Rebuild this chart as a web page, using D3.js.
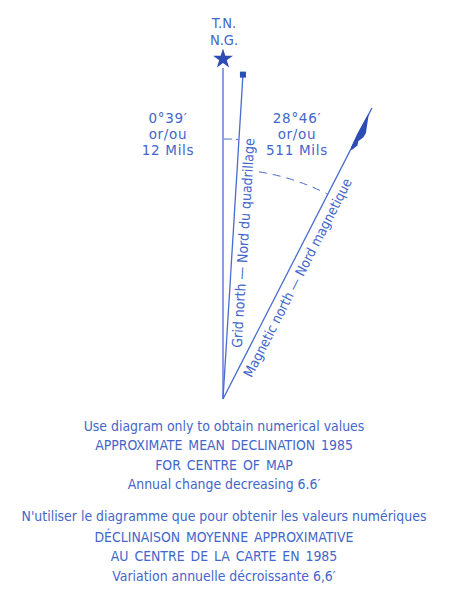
<!DOCTYPE html>
<html><head><meta charset="utf-8">
<script src="https://cdn.jsdelivr.net/npm/d3@7"></script>
<style>html,body{margin:0;padding:0;background:#fff}</style>
</head><body>
<svg id="c" width="474" height="593"></svg>
<script>
// ---- data ----
const northLabels = ["T.N.", "N.G."];
const lineNames = ["true", "grid", "magnetic"];
const declinationMinutes = [0, 39, 28 * 60 + 46];   // 0°, 0°39′, 28°46′
const declinationMils = [0, 12, 511];
const gridDeclLabel = ["0°39′", "or/ou", "12 Mils"];
const magDeclLabel = ["28°46′", "or/ou", "511 Mils"];
const lineLabels = ["Grid north — Nord du quadrillage", "Magnetic north — Nord magnetique"];
const notesEnglish = [
  "Use diagram only to obtain numerical values",
  "APPROXIMATE MEAN DECLINATION 1985",
  "FOR CENTRE OF MAP",
  "Annual change decreasing 6.6′"
];
const notesFrench = [
  "N'utiliser le diagramme que pour obtenir les valeurs numériques",
  "DÉCLINAISON MOYENNE APPROXIMATIVE",
  "AU CENTRE DE LA CARTE EN 1985",
  "Variation annuelle décroissante 6,6′"
];

// ---- layout / style ----
const FONT = "'Liberation Sans Narrow','DejaVu Sans Condensed','Arial Narrow',sans-serif";
const FONT_REG = "'DejaVu Sans',sans-serif";
const TXT = "#4466cc";
const INK = "#2d4db4";
const LINE = "#4a6cd0";
const O = [223, 399];

const svg = d3.select("#c");

// angle scale (diagram is schematic: small angles exaggerated)
const angle = d3.scaleLinear().domain(declinationMinutes).range([0, 3.52, 27.1]);
const rad = d => d * Math.PI / 180;
function pt(aDeg, r) { const a = rad(aDeg); return [O[0] + r * Math.sin(a), O[1] - r * Math.cos(a)]; }

const lineLen = { true: 331, grid: 323, magnetic: 327 };

// lines
lineNames.forEach((n, i) => {
  const a = angle(declinationMinutes[i]);
  const p = pt(a, lineLen[n]);
  svg.append("line").attr("x1", O[0]).attr("y1", O[1]).attr("x2", p[0]).attr("y2", p[1])
    .attr("stroke", LINE).attr("stroke-width", 1.3);
});

// star (true north)
const sp = pt(0, 340);
svg.append("path").attr("d", d3.symbol(d3.symbolStar).size(122)())
  .attr("transform", `translate(${sp[0]},${sp[1]})`).attr("fill", INK);

// square (grid north)
const gq = pt(angle(declinationMinutes[1]), 325);
svg.append("rect").attr("x", gq[0] - 3).attr("y", gq[1] - 3).attr("width", 6).attr("height", 6).attr("fill", INK);

// half arrowhead (magnetic north)
const am = angle(declinationMinutes[2]);
const tip = pt(am, 327);
const dv = [-Math.sin(rad(am)), Math.cos(rad(am))];
const nr = [Math.cos(rad(am)), Math.sin(rad(am))];
const head = [[7,0],[16,3],[25,6],[30,5.8],[36,3],[40,4.2],[47,1],[45,-0.7],[30,-1.3],[15,-0.9],[7,-0.4]];
svg.append("path")
  .attr("d", d3.line()(head.map(([u, v]) => [tip[0] + u * dv[0] + v * nr[0], tip[1] + u * dv[1] + v * nr[1]])) + "Z")
  .attr("fill", INK);

// dashed arcs
function arcPath(r, a0, a1) {
  const p = d3.path();
  p.arc(O[0], O[1], r, rad(a0 - 90), rad(a1 - 90));
  return p.toString();
}
svg.append("path").attr("d", arcPath(260, 0.2, angle(declinationMinutes[1]) - 0.2))
  .attr("fill", "none").attr("stroke", LINE).attr("stroke-width", 1).attr("stroke-dasharray", "8,4");
svg.append("path").attr("d", arcPath(230, 9.0, angle(declinationMinutes[2])))
  .attr("fill", "none").attr("stroke", LINE).attr("stroke-width", 1).attr("stroke-dasharray", "8,6");

// north labels
svg.selectAll(".nl").data(northLabels).enter().append("text")
  .attr("x", 224).attr("y", (d, i) => 28 + i * 16.5)
  .attr("text-anchor", "middle").attr("font-family", FONT).attr("font-size", 14.5)
  .attr("fill", TXT).text(d => d);

// declination labels
function declBlock(lines, cx) {
  const t = svg.append("text").attr("text-anchor", "middle").attr("font-family", FONT_REG)
    .attr("font-size", 13.5).attr("letter-spacing", 0.7).attr("fill", TXT);
  t.selectAll("tspan").data(lines).enter().append("tspan")
    .attr("x", cx).attr("y", (d, i) => 123 + i * 15.8).text(d => d);
}
declBlock(gridDeclLabel, 168);
declBlock(magDeclLabel, 297);

// labels along lines
[[1, 157, 15.5, 14.0], [2, 142, 16, 13.7]].forEach(([i, r, off, fs], k) => {
  const a = angle(declinationMinutes[i]);
  const p = pt(a, r);
  const x = p[0] + off * Math.cos(rad(a)), y = p[1] + off * Math.sin(rad(a));
  svg.append("text").attr("transform", `translate(${x},${y}) rotate(${a - 90})`)
    .attr("text-anchor", "middle").attr("font-family", FONT).attr("font-size", fs)
    .attr("fill", TXT).text(lineLabels[k]);
});

// notes
const noteY1 = [431, 450, 469.5, 489];
const noteY2 = [521, 541.5, 561, 581];
function notes(lines, ys) {
  svg.selectAll(null).data(lines).enter().append("text")
    .attr("x", 224).attr("y", (d, i) => ys[i])
    .attr("text-anchor", "middle").attr("font-family", FONT).attr("font-size", 13.9)
    .attr("word-spacing", (d) => d === d.toUpperCase() ? 2 : 0)
    .attr("fill", TXT).text(d => d);
}
notes(notesEnglish, noteY1);
notes(notesFrench, noteY2);
</script>
</body></html>
